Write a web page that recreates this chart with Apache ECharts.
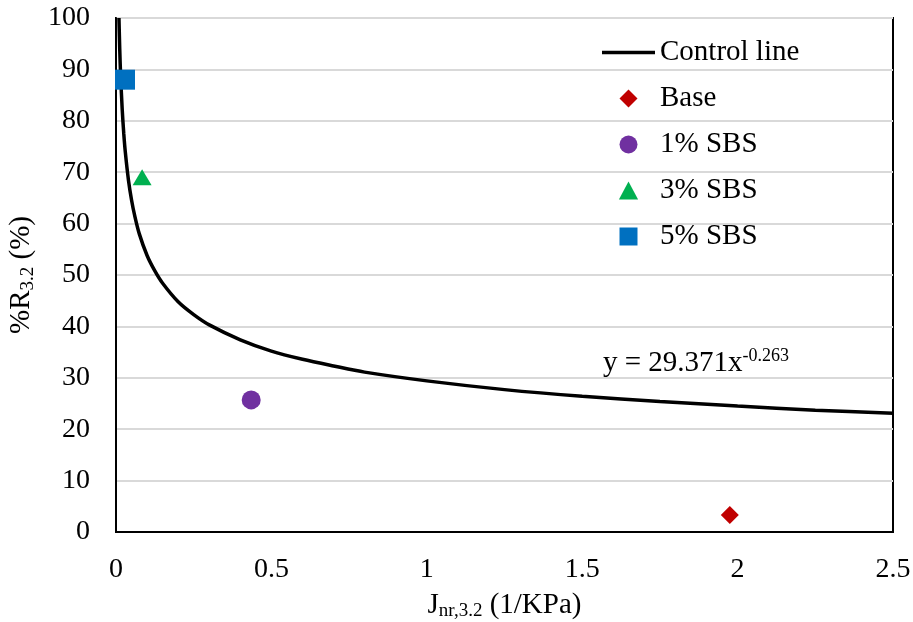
<!DOCTYPE html>
<html>
<head>
<meta charset="utf-8">
<script src="https://cdn.jsdelivr.net/npm/echarts@6/dist/echarts.min.js"></script>
<style>
  html, body { margin: 0; padding: 0; background: #fff; }
  #chart { width: 913px; height: 622px; }
</style>
</head>
<body>
<div id="chart"></div>
<script>
// control line, points
var controlX = [0.0095, 0.012, 0.015, 0.02, 0.025, 0.03, 0.04, 0.05, 0.06, 0.075, 0.1, 0.125, 0.15, 0.2, 0.25, 0.3, 0.4, 0.5, 0.6, 0.7, 0.8, 1.0, 1.25, 1.5, 1.75, 2.0, 2.25, 2.5];
var controlY = [100.0, 94.0, 88.6, 82.2, 77.5, 73.9, 68.5, 64.6, 61.6, 58.0, 53.8, 50.8, 48.4, 44.8, 42.3, 40.3, 37.4, 35.2, 33.6, 32.3, 31.1, 29.4, 27.7, 26.4, 25.4, 24.5, 23.7, 23.1];

var sampleNames = ['Base', '1% SBS', '3% SBS', '5% SBS'];
var sampleJnr = [1.975, 0.435, 0.084, 0.029];
var sampleR = [3.3, 25.7, 69.0, 88.0];
var sampleColors = ['#C00000', '#7030A0', '#00B050', '#0070C0'];
var sampleSymbols = ['diamond', 'circle', 'triangle', 'rect'];
var sampleSizes = [[18, 18], 19, [19, 16], 20];

// legend icons as paths so they keep their aspect inside the wide legend box
var legendIcons = [
    'path://M8,0 L16,8 L8,16 L0,8 Z',
    'path://M0,8 A8,8 0 1,0 16,8 A8,8 0 1,0 0,8 Z',
    'path://M8,0 L16,15 L0,15 Z',
    'path://M0,0 L16,0 L16,16 L0,16 Z'
];

var font = 'Liberation Serif';
var fs = 28;
var nameFs = 29;

var chart = echarts.init(document.getElementById('chart'));

var series = [{
    name: 'Control line',
    type: 'line',
    smooth: 0.3,
    symbol: 'none',
    lineStyle: { color: '#000', width: 3.5 },
    itemStyle: { color: '#000' },
    data: controlX.map(function (x, i) { return [x, controlY[i]]; }),
    z: 3
}];

sampleNames.forEach(function (n, i) {
    series.push({
        name: n,
        type: 'scatter',
        symbol: sampleSymbols[i],
        symbolSize: sampleSizes[i],
        itemStyle: { color: sampleColors[i], opacity: 1 },
        data: [[sampleJnr[i], sampleR[i]]],
        z: 4
    });
});

var legendData = [{ name: 'Control line', icon: 'path://M0,0 L53,0 L53,3.5 L0,3.5 Z' }];
sampleNames.forEach(function (n, i) {
    legendData.push({ name: n, icon: legendIcons[i] });
});

var nameRich = {
    a: { fontFamily: font, fontSize: nameFs, color: '#000', lineHeight: 32 },
    s: { fontFamily: font, fontSize: 19, color: '#000', lineHeight: 32, verticalAlign: 'bottom', padding: [11, 0, 0, 0] }
};

var option = {
    animation: false,
    textStyle: { fontFamily: font },
    grid: {
        left: 116, top: 18, right: 20, bottom: 90,
        outerBoundsMode: 'none',
        containLabel: false,
        show: true, borderColor: '#000', borderWidth: 2, backgroundColor: 'transparent'
    },
    legend: {
        orient: 'vertical',
        left: 602,
        top: 38,
        padding: 0,
        itemWidth: 53,
        itemHeight: 18,
        itemGap: 17,
        textStyle: { fontFamily: font, fontSize: 29, color: '#000' },
        data: legendData
    },
    xAxis: {
        type: 'value',
        min: 0, max: 2.5, interval: 0.5,
        axisLine: { show: true, lineStyle: { color: '#000', width: 2 } },
        axisTick: { show: false },
        splitLine: { show: false },
        axisLabel: { color: '#000', fontFamily: font, fontSize: fs, margin: 24 },
        name: '{a|J}{s|nr,3.2}{a| (1/KPa)}',
        nameLocation: 'middle',
        nameGap: 57,
        nameTextStyle: { rich: nameRich }
    },
    yAxis: {
        type: 'value',
        min: 0, max: 100, interval: 10,
        axisLine: { show: true, lineStyle: { color: '#000', width: 2 } },
        axisTick: { show: false },
        splitLine: { show: true, lineStyle: { color: '#d9d9d9', width: 2 } },
        axisLabel: { color: '#000', fontFamily: font, fontSize: fs, margin: 26 },
        name: '{a|%R}{s|3.2}{a| (%)}',
        nameLocation: 'middle',
        nameGap: 64,
        nameTextStyle: { rich: nameRich }
    },
    graphic: [{
        type: 'text',
        left: 603,
        top: 347,
        style: {
            text: '{a|y = 29.371x}{s|-0.263}',
            rich: {
                a: { fontFamily: font, fontSize: 29, fill: '#000', lineHeight: 33 },
                s: { fontFamily: font, fontSize: 18, fill: '#000', lineHeight: 33, verticalAlign: 'top', padding: [0, 0, 12, 0] }
            }
        }
    }],
    series: series
};

chart.setOption(option);
</script>
</body>
</html>
